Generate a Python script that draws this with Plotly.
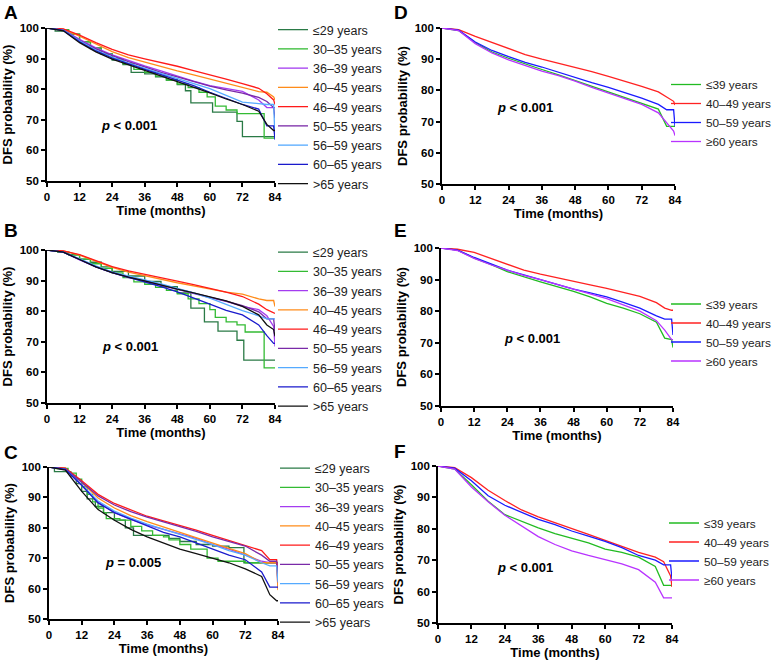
import plotly.graph_objects as go

# ---------------- data ----------------
T = [0, 6, 12, 18, 24, 30, 36, 42, 48, 54, 60, 66, 72, 78, 81, 83.5, 84]

NAMES9 = ["≤29 years", "30–35 years", "36–39 years", "40–45 years", "46–49 years",
          "50–55 years", "56–59 years", "60–65 years", ">65 years"]
NAMES4 = ["≤39 years", "40–49 years", "50–59 years", "≥60 years"]

X_TICKS = [0, 12, 24, 36, 48, 60, 72, 84]
Y_TICKS = [50, 60, 70, 80, 90, 100]

P_TEXT = ["<i>p</i> &lt; 0.001", "<i>p</i> &lt; 0.001", "<i>p</i> = 0.005",
          "<i>p</i> &lt; 0.001", "<i>p</i> &lt; 0.001", "<i>p</i> &lt; 0.001"]
PANEL_LETTERS = ["A", "B", "C", "D", "E", "F"]

# Panel A
A_le29_t = [0, 3, 8, 12, 16, 20, 24, 28, 31, 36, 40, 44, 48, 51, 53, 57, 61, 70, 72, 84]
A_le29_v = [100, 99, 98, 95.5, 93.5, 91.5, 89.5, 88, 85.5, 85, 84, 83, 81.5, 79.5, 75.5, 75.5, 72.5, 69.5, 64.5, 64.5]
A_30_35_t = [0, 4, 8, 12, 16, 20, 24, 28, 32, 36, 40, 44, 48, 52, 56, 59, 62, 66, 70, 80, 84]
A_30_35_v = [100, 99.5, 98, 95.5, 93.3, 91.5, 90, 88.3, 86.5, 85.5, 84.3, 83, 81.7, 80.5, 79, 77.5, 74.5, 73.2, 72, 64, 64]
A_36_39 = [100, 99.4, 96.3, 93.5, 91.2, 89.3, 87.6, 86, 84.3, 82.6, 81.2, 80.2, 79.3, 76.5, 74, 74, 74]
A_40_45 = [100, 99.6, 97.3, 94.8, 92.3, 90.3, 88.8, 87.5, 86, 84.7, 83.3, 82, 80.6, 79.2, 79, 77.5, 76.5]
A_46_49 = [100, 99.7, 97.7, 95.2, 93, 91.2, 89.9, 88.8, 87.5, 86.1, 84.8, 83.3, 81.8, 80.3, 78.5, 76.5, 75]
A_50_55 = [100, 99.3, 96, 93.2, 91, 89, 87.3, 85.5, 84, 82.4, 81, 79.8, 78.7, 77.3, 76, 74, 70.5]
A_56_59 = [100, 99.3, 95.8, 92.8, 90.5, 88.5, 86.8, 85.2, 83.5, 81.8, 80.2, 78, 75.8, 75.3, 75, 75, 64]
A_60_65 = [100, 99.2, 95.5, 92.5, 90.2, 88.3, 86.5, 84.8, 83, 81.2, 79, 77, 75, 73.5, 68, 68, 63.5]
A_gt65 = [100, 99.1, 95.2, 92.2, 89.8, 88, 86, 84.3, 82.5, 80.8, 78.8, 76.8, 75, 72.8, 68.5, 66.5, 66.5]

# Panel B
B_le29_t = [0, 4, 8, 12, 16, 20, 24, 30, 36, 42, 48, 53, 58, 63, 70, 72.5, 84]
B_le29_v = [100, 99.3, 98.5, 97, 96, 94.5, 93, 91.5, 89.7, 88, 86, 81, 76.5, 73.5, 70.5, 64, 64]
B_30_35_t = [0, 4, 8, 12, 16, 20, 24, 28, 32, 36, 40, 44, 48, 52, 56, 60, 62, 66, 70, 73, 80, 84]
B_30_35_v = [100, 99.3, 98.3, 97, 95.5, 94, 92.5, 91, 89.6, 88.8, 87.8, 86.8, 85.7, 84, 82.5, 80.5, 78, 76.5, 75.5, 73.2, 61.5, 61.5]
B_36_39 = [100, 99.3, 96.8, 94.5, 92.6, 91, 89.8, 88.4, 87, 85.6, 84.4, 83.2, 81.6, 80.5, 78.5, 75, 68.5]
B_40_45 = [100, 99.7, 98.3, 96.2, 94.3, 92.8, 91.6, 90.4, 89.3, 88.3, 87.3, 86.2, 85.6, 84, 83.5, 83.5, 81.5]
B_46_49 = [100, 99.7, 98.5, 96.5, 94.6, 93.2, 92, 90.9, 89.8, 88.7, 87.5, 86.2, 84.8, 82.3, 80.5, 79.3, 79.3]
B_50_55 = [100, 99.3, 97, 94.6, 92.8, 91.2, 90, 88.6, 87.2, 85.9, 84.6, 83.3, 81.8, 79.8, 77.5, 77.5, 73.5]
B_56_59 = [100, 99.3, 97.1, 94.8, 92.8, 91.4, 90.2, 88.9, 87.5, 86, 84.3, 82.2, 80.2, 78.5, 77.5, 77.5, 77.5]
B_60_65 = [100, 99.3, 96.9, 94.5, 92.6, 91.1, 89.7, 88, 86.3, 84.4, 82.3, 80.3, 78.8, 75.5, 72, 69.5, 69.5]
B_gt65 = [100, 99.3, 96.9, 94.5, 92.6, 91.1, 89.9, 88.5, 87.2, 86, 84.8, 83.4, 81.6, 78.8, 75.5, 74, 71.8]

# Panel C
C_le29_t = [0, 2, 8, 10, 12, 14, 17, 20, 24, 28, 31, 40, 44, 48, 54, 60, 66, 71.5, 84]
C_le29_v = [100, 98.5, 97, 94.5, 92, 89.5, 87, 85, 82.5, 80, 77.5, 77.5, 76.5, 75.5, 74.5, 74, 73.5, 68.5, 68.5]
C_30_35_t = [0, 3, 7, 10, 12, 14, 16, 18, 20, 21, 26, 30, 34, 38, 42, 44, 48, 52, 56, 58, 62, 72, 78, 84]
C_30_35_v = [100, 99.5, 98, 96, 93.5, 91, 88.5, 86.5, 85, 83, 82.5, 80.5, 79, 77.5, 77, 76, 74.5, 73, 73, 70, 69, 68.5, 68.5, 68.5]
C_36_39 = [100, 99.2, 94, 88.5, 85, 82.8, 81, 79.5, 78, 76.5, 74.5, 73, 71, 69, 68.5, 68.5, 60]
C_40_45 = [100, 99.6, 95, 89.8, 86.5, 84, 82, 80.2, 78.5, 76.8, 75, 73.2, 71.5, 68.5, 68.5, 68.5, 59.5]
C_46_49 = [100, 99.6, 95.5, 91, 88, 85.8, 83.8, 82.3, 80.8, 79.2, 77.5, 75.8, 74.2, 72.5, 69.5, 69.5, 62]
C_50_55 = [100, 99.4, 95, 90.5, 87.5, 85.3, 83.5, 82, 80.5, 78.8, 77, 75.5, 74, 71, 69, 69, 65.5]
C_56_59 = [100, 99.2, 94.2, 88.8, 85.5, 83.2, 81.2, 79.5, 77.8, 76.2, 74.5, 72.5, 71, 68.5, 67.5, 67.5, 62]
C_60_65 = [100, 99.2, 94, 88.2, 85, 82.8, 80.5, 78.5, 77, 75, 73, 71, 69.5, 65.5, 60.5, 60.5, 60.5]
C_gt65 = [100, 99, 92, 86, 82.5, 79.5, 77, 75, 73, 71.5, 70, 68.5, 66.5, 64, 58, 56, 56]

# Panel D
D_le39 = [100, 99.2, 95.3, 92.3, 90.3, 88.4, 86.7, 85, 83.2, 81.3, 79.6, 77.6, 76, 74, 68.5, 68.5, 68.5]
D_40_49 = [100, 99.5, 97.3, 95.3, 93.3, 91.5, 90, 88.7, 87.3, 86, 84.5, 83, 81.3, 79.5, 78, 76.5, 75.3]
D_50_59 = [100, 99.3, 95.5, 92.8, 90.8, 89, 87.5, 85.8, 84, 82.5, 81, 79.3, 77.5, 75.5, 73.8, 73.8, 68.5]
D_ge60 = [100, 99.2, 95, 92, 89.8, 88, 86.2, 84.7, 83, 81, 79.2, 77.2, 75.5, 72.8, 69.5, 67, 65.5]

# Panel E
E_le39 = [100, 99.3, 96.8, 94.8, 92.5, 90.8, 89.3, 87.8, 86.3, 84.5, 82.5, 81, 79.2, 76.5, 71.5, 71, 68.5]
E_40_49 = [100, 99.6, 98.6, 96.8, 94.8, 93, 91.7, 90.5, 89.5, 88.3, 87.2, 86, 84.7, 82.7, 81, 80.3, 80.3]
E_50_59 = [100, 99.3, 97, 95, 93, 91.5, 90, 88.5, 87, 85.8, 84.5, 82.8, 81, 78.5, 77.5, 77.5, 72.5]
E_ge60 = [100, 99.2, 96.7, 94.7, 93, 91.3, 90, 88.5, 87, 85.5, 84, 82, 80, 77, 74, 71, 71]

# Panel F
F_le39 = [100, 99, 94, 88.8, 84.5, 82.3, 80.3, 78.5, 77, 75.5, 73.5, 72.5, 71, 68, 62, 62, 62]
F_40_49 = [100, 99.5, 96.3, 92.3, 89, 86, 83.8, 82, 80, 78.2, 76.3, 74.3, 72.5, 71, 69.5, 65, 61.5]
F_50_59 = [100, 99.3, 95.3, 90.5, 87.5, 85.3, 83, 81.3, 79.3, 77.7, 76, 74, 71.5, 70, 68.5, 68.5, 64]
F_ge60 = [100, 99, 93.3, 88.6, 84.3, 81, 77.5, 75, 73, 71.5, 70.2, 68.8, 67, 63, 58, 58, 58]

# ---------------- styling ----------------
COL9 = ["#2a7a46", "#33bb33", "#a43cf0", "#ff8c1a", "#ff1a1a",
        "#7a2aa8", "#55aaff", "#1a1acc", "#111111"]
COL4 = ["#22bb22", "#ff2222", "#1a1aff", "#b833ff"]

W, H = 772, 660
FONT = "Arial, Liberation Sans, sans-serif"


def px_x(p):
    return p / W


def px_y(p):
    return 1 - p / H


# plot boxes in page pixels: (left, right, top, bottom)
BOXES = [(47, 275, 28, 181), (47, 275, 250, 403), (49, 278, 467, 619),
         (442, 675, 28, 184), (441, 673, 248, 406), (438, 672, 466, 623)]
# legend anchors (left, top) in page pixels
LEG = [(273, 15), (273, 237.5), (275, 453.5), (666, 70), (666, 289.5), (664, 508.5)]
LEG_FONT = [12.5, 12.5, 12.5, 11.8, 11.8, 11.8]
# p-value positions in data units
P_POS = [(30.2, 68.3), (30.4, 68.6), (30.8, 68.75), (29.9, 74.4), (32.9, 71.5), (31.2, 67.8)]
LETTER_POS = [(2, 13), (2, 230), (2, 452), (392, 13), (392, 231), (392, 451)]

panels = [
    [(A_le29_t, A_le29_v, "hv"), (A_30_35_t, A_30_35_v, "hv"), (T, A_36_39, "linear"),
     (T, A_40_45, "linear"), (T, A_46_49, "linear"), (T, A_50_55, "linear"),
     (T, A_56_59, "linear"), (T, A_60_65, "linear"), (T, A_gt65, "linear")],
    [(B_le29_t, B_le29_v, "hv"), (B_30_35_t, B_30_35_v, "hv"), (T, B_36_39, "linear"),
     (T, B_40_45, "linear"), (T, B_46_49, "linear"), (T, B_50_55, "linear"),
     (T, B_56_59, "linear"), (T, B_60_65, "linear"), (T, B_gt65, "linear")],
    [(C_le29_t, C_le29_v, "hv"), (C_30_35_t, C_30_35_v, "hv"), (T, C_36_39, "linear"),
     (T, C_40_45, "linear"), (T, C_46_49, "linear"), (T, C_50_55, "linear"),
     (T, C_56_59, "linear"), (T, C_60_65, "linear"), (T, C_gt65, "linear")],
    [(T, D_le39, "linear"), (T, D_40_49, "linear"), (T, D_50_59, "linear"), (T, D_ge60, "linear")],
    [(T, E_le39, "linear"), (T, E_40_49, "linear"), (T, E_50_59, "linear"), (T, E_ge60, "linear")],
    [(T, F_le39, "linear"), (T, F_40_49, "linear"), (T, F_50_59, "linear"), (T, F_ge60, "linear")],
]

fig = go.Figure()
layout = dict(
    width=W, height=H, margin=dict(l=0, r=0, t=0, b=0, autoexpand=False),
    paper_bgcolor="white", plot_bgcolor="white",
    font=dict(family=FONT, color="black"),
    annotations=[],
)

for i, series in enumerate(panels):
    k = i + 1
    sfx = "" if k == 1 else str(k)
    leg = "legend" if k == 1 else f"legend{k}"
    names = NAMES9 if len(series) == 9 else NAMES4
    cols = COL9 if len(series) == 9 else COL4
    for (t, v, shape), nm, c in zip(series, names, cols):
        fig.add_trace(go.Scatter(
            x=t, y=v, mode="lines", name=nm,
            line=dict(color=c, width=1.3, shape=shape),
            xaxis=f"x{sfx}", yaxis=f"y{sfx}", legend=leg, hoverinfo="skip"))

    l, r, tp, bt = BOXES[i]
    layout[f"xaxis{sfx}"] = dict(
        domain=[px_x(l), px_x(r)], anchor=f"y{sfx}", range=[0, 84],
        tickmode="array", tickvals=X_TICKS,
        showline=True, linecolor="black", linewidth=1.6,
        ticks="outside", ticklen=4, tickwidth=1.5, tickcolor="black",
        showgrid=False, zeroline=False,
        tickfont=dict(family=FONT, size=11.5, color="black", weight="bold"),
        title=dict(text="Time (months)", standoff=3,
                   font=dict(family=FONT, size=13, color="black", weight="bold")),
    )
    layout[f"yaxis{sfx}"] = dict(
        domain=[px_y(bt), px_y(tp)], anchor=f"x{sfx}", range=[50, 100],
        tickmode="array", tickvals=Y_TICKS,
        showline=True, linecolor="black", linewidth=1.6,
        ticks="outside", ticklen=4, tickwidth=1.5, tickcolor="black",
        showgrid=False, zeroline=False,
        tickfont=dict(family=FONT, size=11.5, color="black", weight="bold"),
        title=dict(text="DFS probability (%)", standoff=4,
                   font=dict(family=FONT, size=13, color="black", weight="bold")),
    )
    lx, ly = LEG[i]
    layout[leg] = dict(
        x=px_x(lx), y=px_y(ly), xanchor="left", yanchor="top",
        bgcolor="rgba(0,0,0,0)", borderwidth=0, tracegroupgap=0,
        font=dict(family=FONT, size=LEG_FONT[i], color="#222222"),
    )
    px_, py_ = P_POS[i]
    layout["annotations"].append(dict(
        x=px_, y=py_, xref=f"x{sfx}", yref=f"y{sfx}", text=f"<b>{P_TEXT[i]}</b>",
        showarrow=False, xanchor="center", yanchor="middle",
        font=dict(family=FONT, size=13, color="black")))
    gx, gy = LETTER_POS[i]
    layout["annotations"].append(dict(
        x=px_x(gx), y=px_y(gy), xref="paper", yref="paper", text=f"<b>{PANEL_LETTERS[i]}</b>",
        showarrow=False, xanchor="left", yanchor="middle",
        font=dict(family=FONT, size=19, color="black")))

fig.update_layout(**layout)
fig.write_html("out.html", config={"displayModeBar": False},
               post_script="document.body.style.margin='0';")
